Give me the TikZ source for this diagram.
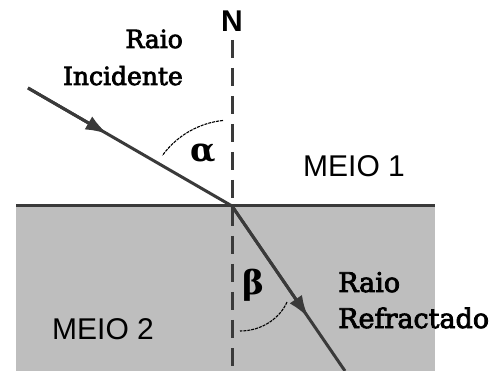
\documentclass[tikz,border=0pt]{standalone}
\usepackage{fontspec}
\setmainfont{DejaVu Serif}
\setsansfont{Liberation Sans}
\newfontfamily\labelserif[FakeBold=3]{DejaVu Serif}
\usetikzlibrary{arrows.meta,calc}
\definecolor{ray}{HTML}{3A3A3A}
\definecolor{medium}{HTML}{BEBEBE}
\begin{document}
\begin{tikzpicture}[x=1pt,y=-1pt,
  rayline/.style={draw=ray, line width=3pt},
  rayarrow/.style={draw=ray, fill=ray, line width=3pt, -{Latex[length=22pt,width=15pt]}},
  normalline/.style={draw=ray, line width=3pt, dash pattern=on 18pt off 10pt},
  anglearc/.style={draw=black, line width=1.1pt, dash pattern=on 3pt off 1pt},
  serifA/.style={font=\labelserif\fontsize{25}{30}\selectfont, inner sep=0pt},
  serifB/.style={font=\labelserif\fontsize{27}{32}\selectfont, inner sep=0pt},
  sanslabel/.style={font=\sffamily\fontsize{30}{36}\selectfont, inner sep=0pt},
  greek/.style={font=\bfseries\fontsize{33}{36}\selectfont, inner sep=0pt}
]
\useasboundingbox (0,0) rectangle (498,371);
% medium 2
\fill[medium] (16,206) rectangle (435,371);
\coordinate (L) at (16,206);
\coordinate (R) at (435,206);
\draw[rayline] (L) -- (R);
% normal
\node[font=\sffamily\bfseries\fontsize{30}{34}\selectfont, inner sep=0pt] (N) at (232,21) {N};
\coordinate (NT) at (232,40);
\coordinate (NB) at (232,371);
\draw[normalline] (NT) -- (NB);
% rays
\coordinate (O) at (232,206);
\coordinate (A) at (28,88);
\coordinate (B) at (345,371);
\coordinate (Am) at ($(A)!0.39!(O)$);
\coordinate (Bm) at ($(O)!0.675!(B)$);
\draw[rayline] (A) -- (O);
\draw[rayarrow] (A) -- (Am);
\draw[rayline] (O) -- (B);
\draw[rayarrow] (O) -- (Bm);
% angles
\draw[anglearc] ([shift={(-96:86)}]O) arc[start angle=-96, end angle=-144, radius=86];
\coordinate (b1) at (287,302);
\coordinate (b2) at (240,331);
\draw[anglearc] (b1) .. controls (280,318) and (262,331) .. (b2);
\node[greek, anchor=base] (alpha) at (203,162) {α};
\node[greek, anchor=center] (beta) at (253,285) {β};
% labels
\node[serifA, anchor=base east] (ri1) at (183,48) {Raio};
\node[serifA, anchor=base east] (ri2) at (183,85) {Incidente};
\node[serifB, anchor=base west] (rr1) at (338,292) {Raio};
\node[serifB, anchor=base west] (rr2) at (338,328) {Refractado};
\node[sanslabel, anchor=base west] (m1) at (303,177) {MEIO 1};
\node[sanslabel, anchor=base west] (m2) at (52,340) {MEIO 2};
\end{tikzpicture}
\end{document}
